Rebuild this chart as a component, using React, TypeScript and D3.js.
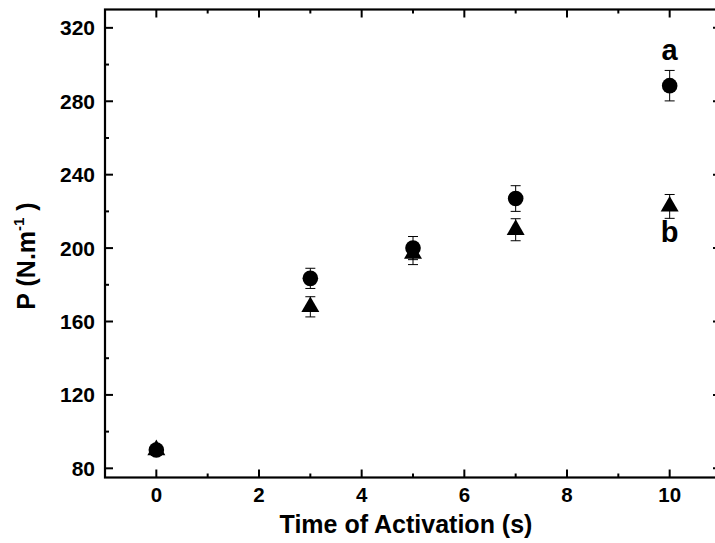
import React from "react";
import * as d3 from "d3";

const times = [0, 3, 5, 7, 10];
const seriesA = [90, 183.5, 200, 227, 288.5];
const errA = [2, 5.5, 6.3, 7, 8.3];
const seriesB = [90, 168, 197, 210, 222.7];
const errB = [2, 5.5, 6, 6, 6.5];
const xTicks = [0, 2, 4, 6, 8, 10];
const xMinor = [-1, 1, 3, 5, 7, 9, 11];
const yTicks = [80, 120, 160, 200, 240, 280, 320];
const yMinor = [100, 140, 180, 220, 260, 300];

const W = 715, H = 543;
const L = 105, R = 721, T = 9.5, B = 477.5;

export default function App() {
  const x = d3.scaleLinear().domain([-1, 11]).range([L, R]);
  const y = d3.scaleLinear().domain([75, 330]).range([B, T]);
  const font = "'Liberation Sans', Arial, sans-serif";
  const tri = d3.symbol().type(d3.symbolTriangle).size(140)();
  const cap = 5;
  return (
    <div style={{ position: "absolute", left: 0, top: 0 }}>
      <svg width={W} height={H} style={{ display: "block" }} fontFamily={font} fontWeight="bold">
        <rect x={0} y={0} width={W} height={H} fill="#fff" />
        <rect x={L} y={T} width={R - L} height={B - T} fill="none" stroke="#000" strokeWidth={2.2} />
        {xTicks.map((t) => (
          <g key={"xt" + t}>
            <line x1={x(t)} x2={x(t)} y1={B} y2={B - 8} stroke="#000" strokeWidth={2} />
            <line x1={x(t)} x2={x(t)} y1={T} y2={T + 8} stroke="#000" strokeWidth={2} />
            <text x={x(t)} y={502} textAnchor="middle" fontSize={20.5}>{t}</text>
          </g>
        ))}
        {xMinor.map((t) => (
          <g key={"xm" + t}>
            <line x1={x(t)} x2={x(t)} y1={B} y2={B - 4} stroke="#000" strokeWidth={2} />
            <line x1={x(t)} x2={x(t)} y1={T} y2={T + 4} stroke="#000" strokeWidth={2} />
          </g>
        ))}
        {yTicks.map((t) => (
          <g key={"yt" + t}>
            <line x1={L} x2={L + 8} y1={y(t)} y2={y(t)} stroke="#000" strokeWidth={2} />
            <line x1={R} x2={R - 8} y1={y(t)} y2={y(t)} stroke="#000" strokeWidth={2} />
            <text x={95} y={y(t) + 7.5} textAnchor="end" fontSize={21}>{t}</text>
          </g>
        ))}
        {yMinor.map((t) => (
          <g key={"ym" + t}>
            <line x1={L} x2={L + 4} y1={y(t)} y2={y(t)} stroke="#000" strokeWidth={2} />
            <line x1={R} x2={R - 4} y1={y(t)} y2={y(t)} stroke="#000" strokeWidth={2} />
          </g>
        ))}
        <text x={406} y={533} textAnchor="middle" fontSize={25}>Time of Activation (s)</text>
        <text transform={`translate(35,${256}) rotate(-90)`} textAnchor="middle" fontSize={25}>
          P (N.m<tspan dy={-11} fontSize={15}>-1</tspan><tspan dy={11}> )</tspan>
        </text>
        {times.map((t, i) => (
          <g key={"a" + i}>
            <line x1={x(t)} x2={x(t)} y1={y(seriesA[i] - errA[i])} y2={y(seriesA[i] + errA[i])} stroke="#000" strokeWidth={1} />
            <line x1={x(t) - cap} x2={x(t) + cap} y1={y(seriesA[i] - errA[i])} y2={y(seriesA[i] - errA[i])} stroke="#000" strokeWidth={1} />
            <line x1={x(t) - cap} x2={x(t) + cap} y1={y(seriesA[i] + errA[i])} y2={y(seriesA[i] + errA[i])} stroke="#000" strokeWidth={1} />
            <circle cx={x(t)} cy={y(seriesA[i])} r={7.8} fill="#000" />
          </g>
        ))}
        {times.map((t, i) => (
          <g key={"b" + i}>
            <line x1={x(t)} x2={x(t)} y1={y(seriesB[i] - errB[i])} y2={y(seriesB[i] + errB[i])} stroke="#000" strokeWidth={1} />
            <line x1={x(t) - cap} x2={x(t) + cap} y1={y(seriesB[i] - errB[i])} y2={y(seriesB[i] - errB[i])} stroke="#000" strokeWidth={1} />
            <line x1={x(t) - cap} x2={x(t) + cap} y1={y(seriesB[i] + errB[i])} y2={y(seriesB[i] + errB[i])} stroke="#000" strokeWidth={1} />
            <path d={tri || ""} transform={`translate(${x(t)},${y(seriesB[i])})`} fill="#000" />
          </g>
        ))}
        <text x={x(10)} y={60} textAnchor="middle" fontSize={29}>a</text>
        <text x={x(10)} y={242} textAnchor="middle" fontSize={29}>b</text>
      </svg>
    </div>
  );
}
